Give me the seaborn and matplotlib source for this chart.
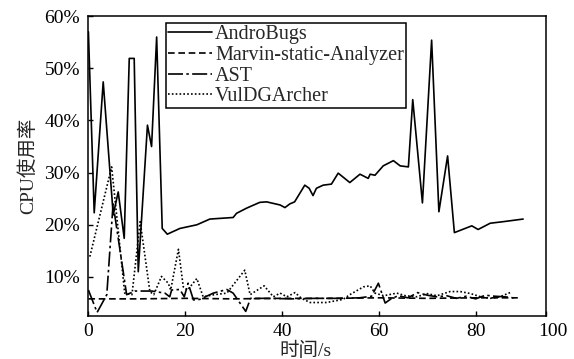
import matplotlib
matplotlib.use("Agg")
import matplotlib.pyplot as plt
import matplotlib.transforms as mtransforms
import seaborn as sns
import pandas as pd

# CPU usage over time for four analysis tools
andro_t = [0, 1.2, 3.06, 5.13, 6.16, 7.4, 8.44, 9.46, 10.3, 12.2, 13.05, 14.1, 15.25, 16.3,
           18.9, 22.4, 25.1, 29.9, 30.6, 32.7, 35.4, 36.8, 39.6, 40.6, 41.6, 42.6, 44.7, 45.6,
           46.4, 47.1, 48.5, 50.2, 51.6, 54.0, 56.1, 57.8, 58.2, 59.2, 60.9, 63.0, 64.4, 66.1,
           67.0, 69.0, 70.9, 72.4, 74.2, 75.6, 79.2, 80.5, 83.0, 85.7, 89.8]
andro_v = [57.0, 22.3, 47.4, 21.9, 26.3, 17.4, 51.9, 51.9, 11.0, 39.1, 35.0, 56.0, 19.3, 18.2,
           19.3, 20.0, 21.1, 21.4, 22.2, 23.2, 24.3, 24.4, 23.8, 23.3, 24.0, 24.4, 27.6, 27.0,
           25.6, 27.0, 27.6, 27.8, 29.9, 28.1, 29.7, 28.9, 29.7, 29.5, 31.3, 32.3, 31.3, 31.1,
           44.0, 24.2, 55.4, 22.5, 33.2, 18.5, 19.8, 19.1, 20.3, 20.6, 21.1]

marvin_t = [0, 10, 20, 30, 40, 50, 60, 70, 80, 88.7]
marvin_v = [5.8, 5.8, 5.9, 5.8, 5.9, 5.9, 6.0, 5.9, 6.0, 6.0]

ast_t = [0, 1.8, 3.8, 5.1, 7.9, 9.6, 13.1, 15.8, 16.8, 17.2, 18.9, 19.8, 20.6, 21.7, 23.0,
         25.8, 28.6, 29.9, 32.5, 33.5, 37, 42, 47, 52, 56, 58.5, 59.9, 61.3, 62.5, 64, 66,
         68, 70, 72, 74, 76, 78, 80, 82, 84, 86, 88.5]
ast_v = [7.5, 3.2, 6.6, 24.0, 6.6, 7.3, 7.3, 6.9, 6.2, 7.5, 7.6, 6.2, 8.8, 5.6, 5.7,
         6.9, 7.6, 6.9, 3.4, 5.9, 5.9, 5.8, 5.9, 5.9, 6.0, 6.3, 8.8, 5.0, 5.8, 6.4, 6.0,
         7.0, 6.5, 6.2, 6.4, 5.9, 6.3, 5.8, 6.5, 6.3, 6.2, 5.9]

vul_t = [0.3, 4.8, 7.5, 9.0, 10.7, 12.7, 13.5, 15.1, 16.5, 17.0, 18.6, 19.6, 20.5, 22.4,
         23.7, 26, 28.6, 32.3, 33.4, 36.3, 38.2, 39.6, 41, 42.7, 44, 45.8, 49.2, 52.6, 54,
         56.8, 58.2, 59.2, 61, 63.7, 65.5, 67.8, 70, 72, 74.7, 76.8, 79, 81, 83, 85, 87.1]
vul_v = [13.9, 31.1, 6.9, 6.6, 20.6, 7.2, 6.6, 10.1, 8.8, 7.5, 15.3, 8.1, 7.5, 9.7,
         6.2, 6.6, 6.9, 11.3, 6.6, 8.3, 6.2, 6.9, 6.2, 7.0, 5.9, 5.1, 5.1, 5.7, 6.6,
         8.1, 8.3, 6.9, 6.4, 6.9, 6.4, 6.2, 6.8, 6.4, 7.2, 7.2, 6.8, 6.2, 5.9, 6.2, 7.0]

names = ["AndroBugs", "Marvin-static-Analyzer", "AST", "VulDGArcher"]
y_ticks = [10, 20, 30, 40, 50, 60]
y_labels = ["10%", "20%", "30%", "40%", "50%", "60%"]
x_ticks = [0, 20, 40, 60, 80]
x_labels = ["0", "20", "40", "60", "80", "100"]

sns.set_theme(style="ticks")
plt.rcParams["font.family"] = ["Liberation Serif", "Noto Sans CJK SC"]

fig = plt.figure(figsize=(5.74, 3.59), dpi=100)
ax = fig.add_axes([0.154, 0.120, 0.797, 0.835])

series = [
    (andro_t, andro_v, None),
    (marvin_t, marvin_v, (4.0, 2.2)),
    (ast_t, ast_v, (9.0, 2.0, 1.5, 2.0)),
    (vul_t, vul_v, (1.0, 1.3)),
]
for name, (t, v, dash) in zip(names, series):
    df = pd.DataFrame({"t": t, "v": v})
    sns.lineplot(data=df, x="t", y="v", ax=ax, color="black", lw=1.2,
                 label=name, estimator=None, sort=False)
    if dash is not None:
        ax.get_lines()[-1].set_dashes(dash)

x_max = 94.5
ax.set_xlim(0, x_max)
ax.set_ylim(2.53, 60)
ax.set_xticks(x_ticks + [x_max])
ax.set_xticklabels(x_labels)
ax.set_yticks(y_ticks)
ax.set_yticklabels(y_labels)
ax.tick_params(axis="both", direction="in", length=3.5, width=1, labelsize=14,
               colors="black", pad=5)
ax.tick_params(axis="y", pad=6)
# the final label sits just past the right spine
last = ax.get_xticklabels()[-1]
last.set_transform(last.get_transform() +
                   mtransforms.ScaledTranslation(7 / 100, 0, fig.dpi_scale_trans))
for s in ax.spines.values():
    s.set_visible(True)
    s.set_linewidth(1.1)
    s.set_color("black")

ax.set_xlabel("时间/s", fontsize=14, labelpad=0)
ax.xaxis.set_label_coords(0.475, -0.085)
ax.set_ylabel("CPU使用率", fontsize=14, labelpad=5)

leg = ax.legend(loc="upper left", bbox_to_anchor=(0.169, 0.977), fontsize=14.5,
                frameon=True, fancybox=False, edgecolor="black", handlelength=2.2,
                handletextpad=0.15, borderpad=0.1, labelspacing=0.08,
                borderaxespad=0.0)
leg.get_frame().set_linewidth(1.1)
leg.get_frame().set_alpha(1)

fig.savefig("out.png", dpi=100)
